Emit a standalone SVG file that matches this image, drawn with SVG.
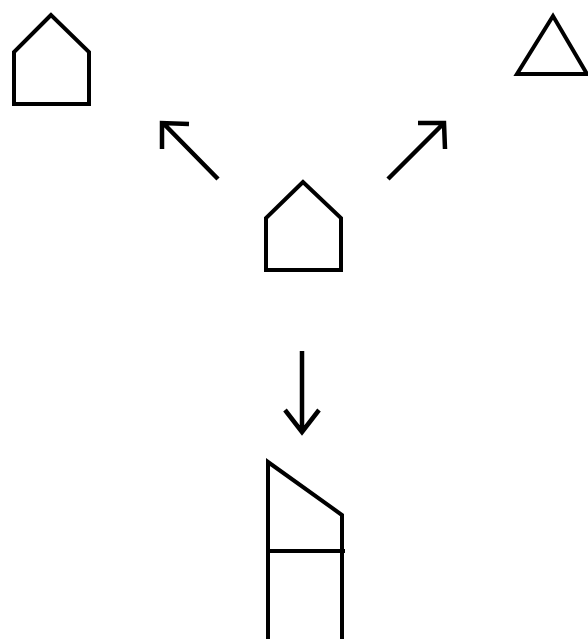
<svg xmlns="http://www.w3.org/2000/svg" width="588" height="639" viewBox="0 0 588 639">
<style>
.s{fill:none;stroke:#000;stroke-width:4;stroke-linejoin:miter;stroke-linecap:butt}
.a{fill:none;stroke:#000;stroke-width:4.5;stroke-linejoin:miter;stroke-linecap:butt}
</style>
<rect width="588" height="639" fill="#fff"/>
<g id="pentagon-top-left"><polygon class="s" points="51,15 14,52 14,104 89,104 89,52"/></g>
<g id="triangle-top-right"><polygon class="s" points="553,16 517,74 587,74"/></g>
<g id="pentagon-center"><polygon class="s" points="303,182 266,218 266,270 341,270 341,218"/></g>
<g id="bottom-shape">
<path class="s" d="M268,639 V462 L342,515 V639"/>
<path class="s" d="M266,551 H345"/>
</g>
<g id="connectors">
<path class="a" d="M218,179 L164,124 M162,149 L162,123 L189,124"/>
<path class="a" d="M388,179 L443,124 M418,123 L444,123 L445,149"/>
<path class="a" d="M302,351 V431 M285,410 L302,432 L319,410"/>
</g>
</svg>
